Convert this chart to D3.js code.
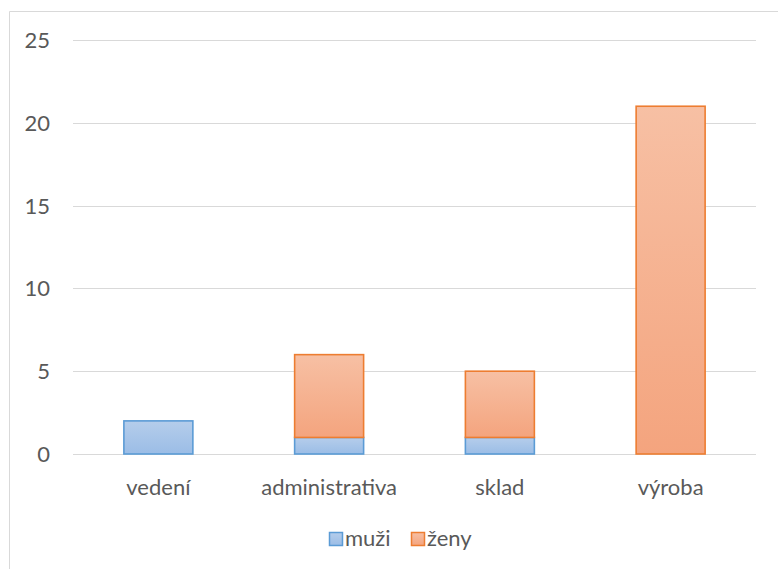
<!DOCTYPE html>
<html>
<head>
<meta charset="utf-8">
<script src="https://cdn.jsdelivr.net/npm/d3@7"></script>
<style>
  body { margin: 0; background: #fff; }
  svg { display: block; }
  text { font-family: Lato, "Open Sans", sans-serif; fill: #595959; }
</style>
</head>
<body>
<div id="chart"></div>
<script>
// data
const categories = ['vedení', 'administrativa', 'sklad', 'výroba'];
const seriesNames = ['muži', 'ženy'];
const muzi = [2, 1, 1, 0];
const zeny = [0, 5, 4, 21];
const yTicks = [0, 5, 10, 15, 20, 25];

const width = 778, height = 569;
const plot = { left: 73, right: 756, top: 40, bottom: 454 };
const fontSize = 22;

const svg = d3.select('#chart').append('svg')
  .attr('width', width)
  .attr('height', height);

// gradients, lighter on top like the Excel fill
const defs = svg.append('defs');
const grads = [
  { id: 'g-muzi', top: '#b5cdeb', bottom: '#9bbde6' },
  { id: 'g-zeny', top: '#f7c0a4', bottom: '#f4a47e' }
];
grads.forEach(g => {
  const lg = defs.append('linearGradient')
    .attr('id', g.id).attr('x1', 0).attr('y1', 0).attr('x2', 0).attr('y2', 1);
  lg.append('stop').attr('offset', '0%').attr('stop-color', g.top);
  lg.append('stop').attr('offset', '100%').attr('stop-color', g.bottom);
});
const strokes = ['#5b9bd5', '#ed7d31'];

// outer chart border (top and left visible)
svg.append('path')
  .attr('d', `M9.5,${height} V11.5 H${width}`)
  .attr('fill', 'none')
  .attr('stroke', '#d9d9d9')
  .attr('stroke-width', 1);

const x = d3.scaleBand()
  .domain(categories)
  .range([plot.left, plot.right])
  .paddingInner(0.596)
  .paddingOuter(0.298);

const y = d3.scaleLinear()
  .domain([0, 25])
  .range([plot.bottom, plot.top]);

// gridlines
svg.append('g')
  .selectAll('line')
  .data(yTicks)
  .join('line')
  .attr('x1', plot.left).attr('x2', plot.right)
  .attr('y1', d => Math.round(y(d)) + 0.5)
  .attr('y2', d => Math.round(y(d)) + 0.5)
  .attr('stroke', '#d9d9d9')
  .attr('stroke-width', 1);

// y tick labels
svg.append('g')
  .selectAll('text')
  .data(yTicks)
  .join('text')
  .attr('x', 50)
  .attr('y', d => y(d))
  .attr('dy', '0.36em')
  .attr('text-anchor', 'end')
  .attr('font-size', fontSize)
  .text(d => d);

// stacked bars
const table = categories.map((c, i) => ({ cat: c, 'muži': muzi[i], 'ženy': zeny[i] }));
const stacked = d3.stack().keys(seriesNames)(table);

stacked.forEach((layer, si) => {
  svg.append('g')
    .selectAll('rect')
    .data(layer.filter(d => d[1] - d[0] > 0))
    .join('rect')
    .attr('x', d => x(d.data.cat))
    .attr('y', d => y(d[1]))
    .attr('width', x.bandwidth())
    .attr('height', d => y(d[0]) - y(d[1]))
    .attr('fill', `url(#${grads[si].id})`)
    .attr('stroke', strokes[si])
    .attr('stroke-width', 1.6);
});

// category labels
svg.append('g')
  .selectAll('text')
  .data(categories)
  .join('text')
  .attr('x', d => x(d) + x.bandwidth() / 2)
  .attr('y', 487)
  .attr('dy', '0.36em')
  .attr('text-anchor', 'middle')
  .attr('font-size', fontSize)
  .text(d => d);

// legend
const legend = svg.append('g');
const legendItems = [
  { name: seriesNames[0], x: 329 },
  { name: seriesNames[1], x: 411 }
];
legendItems.forEach((it, i) => {
  legend.append('rect')
    .attr('x', it.x + 0.5).attr('y', 532.5)
    .attr('width', 13).attr('height', 13)
    .attr('fill', `url(#${grads[i].id})`)
    .attr('stroke', strokes[i])
    .attr('stroke-width', 1.5);
  legend.append('text')
    .attr('x', it.x + 16)
    .attr('y', 538)
    .attr('dy', '0.36em')
    .attr('font-size', fontSize)
    .text(it.name);
});
</script>
</body>
</html>
